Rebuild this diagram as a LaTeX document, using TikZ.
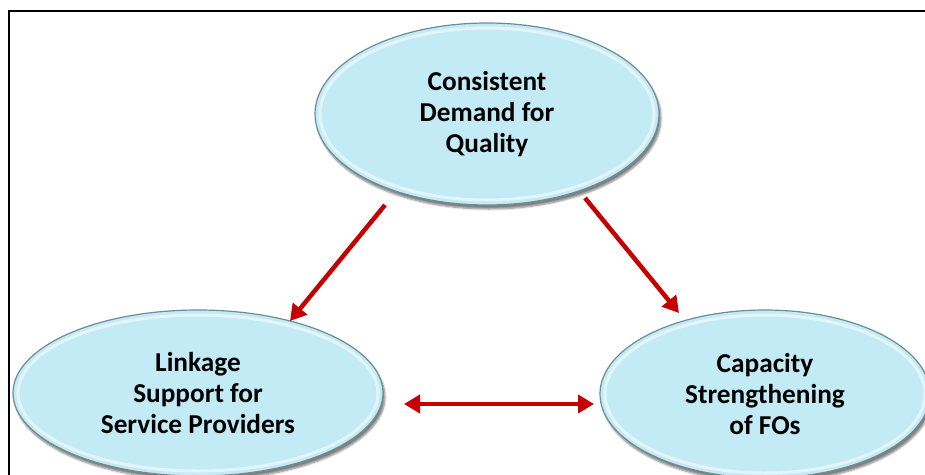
\documentclass[tikz,border=0pt]{standalone}
\usepackage{fontspec}
\setmainfont{Carlito}
\usetikzlibrary{shapes.geometric,arrows.meta,shadows.blur}
\definecolor{ellfill}{RGB}{194,235,245}
\definecolor{ellrim}{RGB}{110,140,150}
\definecolor{arrred}{RGB}{196,0,0}
\tikzset{
  bubble/.style={ellipse, fill=ellfill, draw=ellrim, line width=1.2pt,
    blur shadow={shadow xshift=2pt, shadow yshift=-4pt, shadow blur steps=6, shadow opacity=50},
    font=\fontsize{27.3}{31}\selectfont\bfseries, align=center, inner sep=0pt},
  rim/.style={ellipse, draw=white, draw opacity=0.55, line width=3pt, inner sep=0pt},
  redarrow/.style={draw=arrred, line width=4.5pt, -{Triangle[length=16pt,width=18pt]}},
  redboth/.style={draw=arrred, line width=4.5pt, {Triangle[length=16pt,width=18pt]}-{Triangle[length=16pt,width=18pt]}},
  frameline/.style={draw=black, line width=1.6pt}
}
\begin{document}
\begin{tikzpicture}[x=1pt,y=-1pt]
\useasboundingbox (0,0) rectangle (925,474);
\draw[frameline] (9,490) -- (9,11) -- (940,11);
\node[bubble, minimum width=344pt, minimum height=182pt] (top) at (487,114) {Consistent\\Demand for\\ Quality};
\node[rim, minimum width=334pt, minimum height=172pt] (toprim) at (487,114) {};
\node[bubble, minimum width=370pt, minimum height=166pt] (left) at (198,393) {Linkage\\Support for\\Service Providers};
\node[rim, minimum width=360pt, minimum height=156pt] (leftrim) at (198,393) {};
\node[bubble, minimum width=330pt, minimum height=168pt] (right) at (765,394) {Capacity\\Strengthening\\of FOs};
\node[rim, minimum width=320pt, minimum height=158pt] (rightrim) at (765,394) {};
\coordinate (a1s) at (385,205);
\coordinate (a1e) at (290,321);
\coordinate (a2s) at (585,198);
\coordinate (a2e) at (679,313);
\coordinate (a3s) at (404,404);
\coordinate (a3e) at (594,404);
\draw[redarrow] (a1s) -- (a1e);
\draw[redarrow] (a2s) -- (a2e);
\draw[redboth] (a3s) -- (a3e);
\end{tikzpicture}
\end{document}
